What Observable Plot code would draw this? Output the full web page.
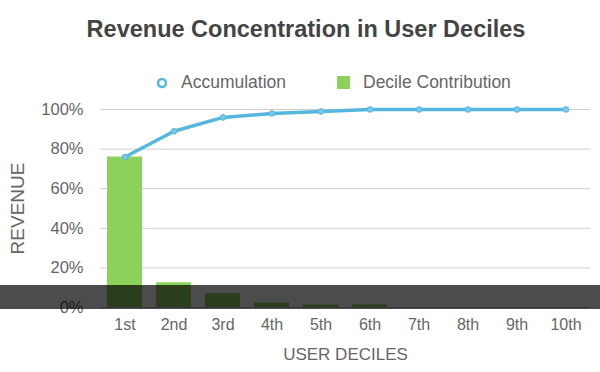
<!DOCTYPE html>
<html>
<head>
<meta charset="utf-8">
<script src="https://cdn.jsdelivr.net/npm/d3@7"></script>
<script src="https://cdn.jsdelivr.net/npm/@observablehq/plot@0.6"></script>
<style>
  body { margin: 0; background: #fff; font-family: "Liberation Sans", Arial, sans-serif; }
  #wrap { position: relative; width: 600px; height: 372px; overflow: hidden; }
  #title { height: 58px; line-height: 58px; text-align: center; font-size: 23.5px; font-weight: bold; color: #444; padding-left: 12px; }
  #legend { height: 27px; font-size: 17.5px; color: #666; }
  #legend .item { display: flex; align-items: center; position: absolute; top: 72px; }
  #shade { position: absolute; left: 0; top: 285px; width: 600px; height: 24px; background: rgba(0,0,0,0.7); }
  svg { display: block; }
</style>
</head>
<body>
<div id="wrap">
  <div id="title">Revenue Concentration in User Deciles</div>
  <div id="legend"></div>
  <div id="chart"></div>
  <div id="shade"></div>
</div>
<script>
const deciles = ["1st", "2nd", "3rd", "4th", "5th", "6th", "7th", "8th", "9th", "10th"];
const contribution = [76, 12.5, 7, 2.2, 1.2, 1.3, 0, 0, 0, 0];
const accumulation = [76, 89, 96, 98, 99, 100, 100, 100, 100, 100];
const yTicks = [0, 20, 40, 60, 80, 100];
const seriesNames = ["Accumulation", "Decile Contribution"];

const lineColor = "#55b6df";
const barColor = "#8cd15a";

const data = deciles.map((d, i) => ({decile: d, contribution: contribution[i], accumulation: accumulation[i]}));

// legend
const legend = document.getElementById("legend");
legend.innerHTML = `
  <div class="item" style="left:154px">
    <svg width="16" height="18"><circle cx="8" cy="9" r="4" fill="#fff" stroke="${lineColor}" stroke-width="2.5"/></svg>
    <span style="margin-left:11px">${seriesNames[0]}</span>
  </div>
  <div class="item" style="left:336px">
    <svg width="16" height="18"><rect x="1" y="2" width="13" height="13" fill="${barColor}"/></svg>
    <span style="margin-left:11px">${seriesNames[1]}</span>
  </div>`;

const chart = Plot.plot({
  width: 600,
  height: 287,
  marginTop: 24,
  marginBottom: 65,
  marginLeft: 100,
  marginRight: 10,
  style: {fontFamily: "Liberation Sans, Arial, sans-serif", fontSize: "16px", color: "#666", background: "transparent"},
  x: {domain: deciles, paddingInner: 0.29, paddingOuter: 0.145, label: null},
  y: {domain: [0, 100], label: null},
  marks: [
    Plot.gridY(yTicks, {stroke: "#cfcfcf", strokeOpacity: 1}),
    Plot.axisY(yTicks, {tickSize: 0, tickPadding: 17, tickFormat: d => d + "%", fontSize: 16.5, fill: "#666", label: null}),
    Plot.axisX({tickSize: 0, tickPadding: 11, fontSize: 16, fill: "#666", label: null}),
    Plot.barY(data, {x: "decile", y: "contribution", fill: barColor}),
    Plot.ruleY([0], {stroke: "#bbb"}),
    Plot.line(data, {x: "decile", y: "accumulation", stroke: lineColor, strokeWidth: 3.5}),
    Plot.dot(data, {x: "decile", y: "accumulation", r: 2.8, fill: "#7cc8e8", stroke: lineColor, strokeWidth: 1}),
    Plot.text(["USER DECILES"], {frameAnchor: "bottom", dy: 52, text: d => d, fontSize: 17, fill: "#666", letterSpacing: "2px"}),
    Plot.text(["REVENUE"], {frameAnchor: "left", textAnchor: "middle", dx: -83, rotate: -90, text: d => d, fontSize: 19, fill: "#666", letterSpacing: "0.5px"})
  ]
});
document.getElementById("chart").appendChild(chart);
</script>
</body>
</html>
